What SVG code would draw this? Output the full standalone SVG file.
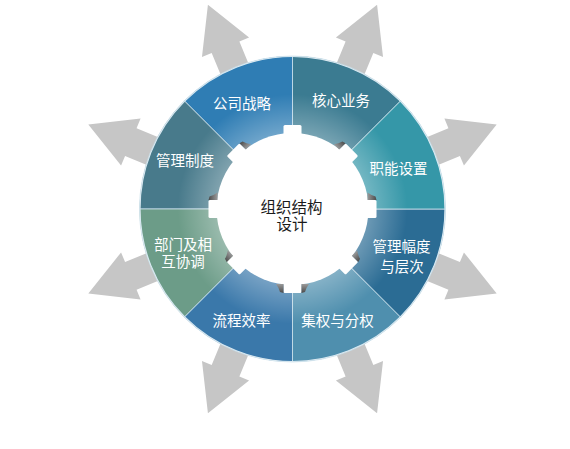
<svg xmlns="http://www.w3.org/2000/svg" width="570" height="449" viewBox="0 0 570 449">
<style>
.arrow{fill:#c6c6c6}
.seg{stroke:#cde2ec;stroke-width:0.8}
.lbl{fill:#ffffff;font-family:"Noto Sans CJK SC","Noto Sans",sans-serif;font-size:14.5px;text-anchor:middle}
.ctr{fill:#1a1a1a;font-family:"Noto Sans CJK SC","Noto Sans",sans-serif;font-size:15.5px;text-anchor:middle}
.bit{fill:url(#bitg)}
</style>
<defs>
<radialGradient id="inner" gradientUnits="userSpaceOnUse" cx="292.5" cy="209" r="153">
<stop offset="0" stop-color="#ffffff" stop-opacity="0.32"/>
<stop offset="0.5" stop-color="#ffffff" stop-opacity="0.3"/>
<stop offset="0.75" stop-color="#ffffff" stop-opacity="0"/>
<stop offset="1" stop-color="#ffffff" stop-opacity="0"/>
</radialGradient>
<linearGradient id="bitg" x1="0" y1="0" x2="1" y2="0">
<stop offset="0" stop-color="#9a9a9a"/>
<stop offset="1" stop-color="#4a4a4a"/>
</linearGradient>
<path id="arr" d="M120,-15 L175,-15 L175,-25.5 L221,0 L175,25.5 L175,15 L120,15 Z"/>
<path id="bitp" d="M75,9 L84,9 L83,12.5 Q79,13.5 75,16.5 Z"/>
<path id="bitm" d="M75,-9 L84,-9 L83,-12.5 Q79,-13.5 75,-16.5 Z"/>
<rect id="tooth" x="0" y="-9" width="84" height="18" rx="1.5"/>
</defs>

<g id="connectors" transform="translate(292.5,209)">
<use href="#arr" class="arrow" transform="rotate(-22.5)"/>
<use href="#arr" class="arrow" transform="rotate(-67.5)"/>
<use href="#arr" class="arrow" transform="rotate(-112.5)"/>
<use href="#arr" class="arrow" transform="rotate(-157.5)"/>
<use href="#arr" class="arrow" transform="rotate(-202.5)"/>
<use href="#arr" class="arrow" transform="rotate(-247.5)"/>
<use href="#arr" class="arrow" transform="rotate(-292.5)"/>
<use href="#arr" class="arrow" transform="rotate(-337.5)"/>
</g>

<g id="ring">
<g id="node-core">
<path class="seg" fill="#3b7b91" d="M400.69,100.81 A153,153 0 0 0 292.5,56 L292.5,149 A60,60 0 0 1 334.93,166.57 Z"/>
</g>
<g id="node-strategy">
<path class="seg" fill="#2f7db4" d="M292.5,56 A153,153 0 0 0 184.31,100.81 L250.07,166.57 A60,60 0 0 1 292.5,149 Z"/>
</g>
<g id="node-system">
<path class="seg" fill="#487a8b" d="M184.31,100.81 A153,153 0 0 0 139.5,209 L232.5,209 A60,60 0 0 1 250.07,166.57 Z"/>
</g>
<g id="node-dept">
<path class="seg" fill="#6c9c88" d="M139.5,209 A153,153 0 0 0 184.31,317.19 L250.07,251.43 A60,60 0 0 1 232.5,209 Z"/>
</g>
<g id="node-process">
<path class="seg" fill="#3a78aa" d="M184.31,317.19 A153,153 0 0 0 292.5,362 L292.5,269 A60,60 0 0 1 250.07,251.43 Z"/>
</g>
<g id="node-central">
<path class="seg" fill="#4f8fae" d="M292.5,362 A153,153 0 0 0 400.69,317.19 L334.93,251.43 A60,60 0 0 1 292.5,269 Z"/>
</g>
<g id="node-span">
<path class="seg" fill="#2b6c94" d="M400.69,317.19 A153,153 0 0 0 445.5,209 L352.5,209 A60,60 0 0 1 334.93,251.43 Z"/>
</g>
<g id="node-function">
<path class="seg" fill="#3597a8" d="M445.5,209 A153,153 0 0 0 400.69,100.81 L334.93,166.57 A60,60 0 0 1 352.5,209 Z"/>
</g>
<circle cx="292.5" cy="209" r="153" fill="url(#inner)"/>
<circle cx="292.5" cy="209" r="152.5" fill="none" stroke="#d9e8f0" stroke-width="1.2"/>
</g>

<g id="node-center">
<g fill="#ffffff" transform="translate(292.5,209)">
<circle r="76"/>
<use href="#tooth" transform="rotate(0)"/>
<use href="#tooth" transform="rotate(-45)"/>
<use href="#tooth" transform="rotate(-90)"/>
<use href="#tooth" transform="rotate(-135)"/>
<use href="#tooth" transform="rotate(-180)"/>
<use href="#tooth" transform="rotate(-225)"/>
<use href="#tooth" transform="rotate(-270)"/>
<use href="#tooth" transform="rotate(-315)"/>
</g>
<g transform="translate(292.5,209)">
<use href="#bitp" class="bit" transform="rotate(-135)"/>
<use href="#bitm" class="bit" transform="rotate(-45)"/>
<use href="#bitm" class="bit" transform="rotate(0)"/>
<use href="#bitm" class="bit" transform="rotate(45)"/>
<use href="#bitm" class="bit" transform="rotate(90)"/>
<use href="#bitp" class="bit" transform="rotate(90)"/>
<use href="#bitp" class="bit" transform="rotate(135)"/>
<use href="#bitp" class="bit" transform="rotate(180)"/>
</g>
<text class="ctr" x="291.5" y="213">组织结构</text>
<text class="ctr" x="292" y="230">设计</text>
</g>

<g id="labels">
<text class="lbl" x="242" y="109">公司战略</text>
<text class="lbl" x="341" y="105.5">核心业务</text>
<text class="lbl" x="398.5" y="174">职能设置</text>
<text class="lbl" x="185" y="165.5">管理制度</text>
<text class="lbl" x="183" y="249.5">部门及相</text>
<text class="lbl" x="183" y="266.5">互协调</text>
<text class="lbl" x="241.5" y="325.5">流程效率</text>
<text class="lbl" x="401.5" y="252">管理幅度</text>
<text class="lbl" x="402" y="271.5">与层次</text>
<text class="lbl" x="337.5" y="325.5">集权与分权</text>
</g>
</svg>
